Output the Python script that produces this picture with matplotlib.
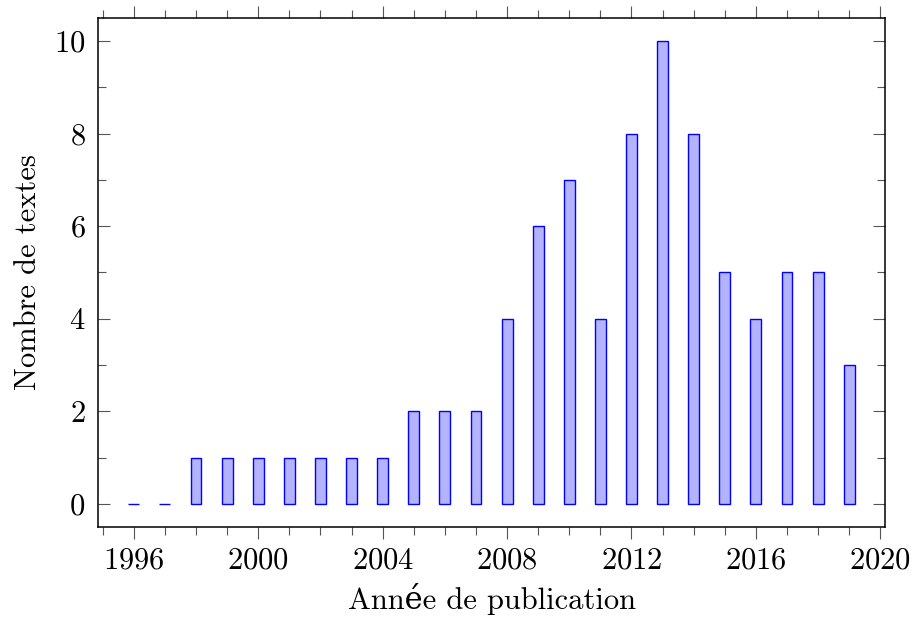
import matplotlib.pyplot as plt
from matplotlib.ticker import MultipleLocator

# Data
years = list(range(1996, 2020))
counts = [0, 0, 1, 1, 1, 1, 1, 1, 1, 2, 2, 2, 4, 6, 7, 4, 8, 10, 8, 5, 4, 5, 5, 3]

plt.rcParams['font.family'] = ['cmr10', 'DejaVu Serif']
plt.rcParams['mathtext.fontset'] = 'cm'
plt.rcParams['axes.formatter.use_mathtext'] = True

fig = plt.figure(figsize=(9.14, 6.2), dpi=100)
ax = fig.add_axes([0.1072, 0.15, 0.8611, 0.821])

ax.bar(years, counts, width=0.35, color='#b3b3ff', edgecolor='#0000ff', linewidth=1.0)

ax.set_xlim(1994.85, 2020.15)
ax.set_ylim(-0.5, 10.5)

ax.xaxis.set_major_locator(MultipleLocator(4))
ax.xaxis.set_minor_locator(MultipleLocator(1))
ax.yaxis.set_major_locator(MultipleLocator(2))
ax.yaxis.set_minor_locator(MultipleLocator(1))

ax.tick_params(axis='x', which='both', direction='out', top=True, bottom=True,
               color='#555555', width=0.8, labelsize=22, pad=6)
ax.tick_params(axis='x', which='major', length=8.5)
ax.tick_params(axis='x', which='minor', length=5.5)
ax.tick_params(axis='y', which='both', direction='in', left=True, right=True,
               color='#555555', width=0.8, labelsize=22, pad=9)
ax.tick_params(axis='y', which='major', length=8.5)
ax.tick_params(axis='y', which='minor', length=5.5)

for s in ax.spines.values():
    s.set_linewidth(1.1)

ax.set_xlabel('Année de publication', fontsize=22, labelpad=6)
ax.set_ylabel('Nombre de textes', fontsize=22, labelpad=9)

fig.savefig('out.png', dpi=100)
